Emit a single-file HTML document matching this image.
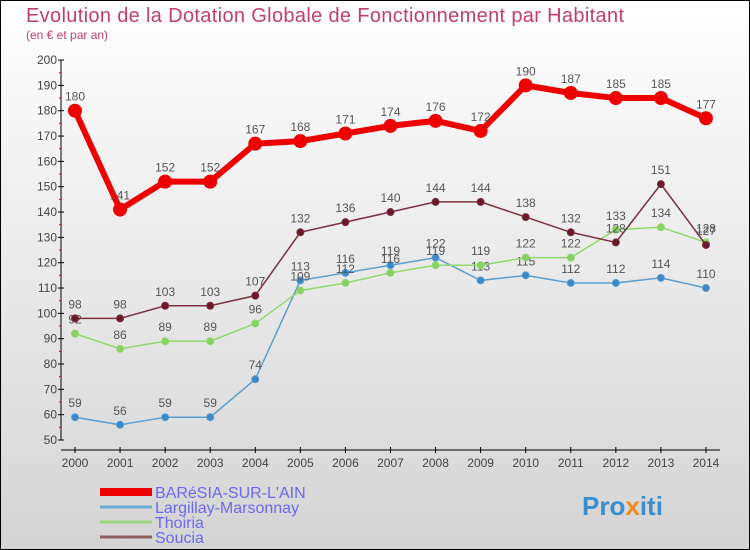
<!DOCTYPE html>
<html><head><meta charset="utf-8"><style>
body{margin:0}
svg{display:block;font-family:"Liberation Sans",sans-serif}
</style></head><body>
<svg width="750" height="550" xmlns="http://www.w3.org/2000/svg">
<defs><linearGradient id="bg" x1="0" y1="0" x2="0" y2="1"><stop offset="0" stop-color="#ffffff"/><stop offset="1" stop-color="#d4d4d4"/></linearGradient></defs>
<rect x="0.5" y="0.5" width="749" height="549" fill="url(#bg)" stroke="#000"/>
<text x="26" y="22" font-size="20" textLength="598" fill="#c0406a">Evolution de la Dotation Globale de Fonctionnement par Habitant</text>
<text x="26" y="39" font-size="12" fill="#c0406a">(en € et par an)</text>
<g id="axes"></g>
<g id="series"></g>
<g id="legend"></g>
<text x="582" y="515" font-size="26" font-weight="bold" fill="#3a8fd0">Pro<tspan fill="#f08a20">x</tspan>iti</text>
</svg>
<script>
const years=[2000,2001,2002,2003,2004,2005,2006,2007,2008,2009,2010,2011,2012,2013,2014];
const yTicks=[50,60,70,80,90,100,110,120,130,140,150,160,170,180,190,200];
const baresia=[180,141,152,152,167,168,171,174,176,172,190,187,185,185,177];
const largillay=[59,56,59,59,74,113,116,119,122,113,115,112,112,114,110];
const thoiria=[92,86,89,89,96,109,112,116,119,119,122,122,133,134,128];
const soucia=[98,98,103,103,107,132,136,140,144,144,138,132,128,151,127];
const NS="http://www.w3.org/2000/svg";
const X=i=>75+i*45.07;
const Y=v=>440-(v-50)*2.533;
function mk(t,a,p){const e=document.createElementNS(NS,t);for(const k in a)e.setAttribute(k,a[k]);p.appendChild(e);return e;}
const ax=document.getElementById('axes');
let yl=mk('line',{x1:61,y1:Y(200),x2:61,y2:Y(50),stroke:'#000'},ax);


yTicks.forEach(v=>{mk('line',{x1:58,y1:Y(v),x2:64,y2:Y(v),stroke:'#000'},ax);
 if(v<200)mk('line',{x1:59,y1:Y(v+5),x2:61,y2:Y(v+5),stroke:'#e00'},ax);
 const t=mk('text',{x:57,y:Y(v)+4,'font-size':12,'text-anchor':'end',fill:'#444'},ax);t.textContent=v;
 
 });
let xl=mk('line',{x1:61,y1:450,x2:720,y2:450,stroke:'#000'},ax);


years.forEach((y,i)=>{mk('line',{x1:X(i),y1:447,x2:X(i),y2:453,stroke:'#000'},ax);
 const t=mk('text',{x:X(i),y:467,'font-size':12,'text-anchor':'middle',fill:'#444'},ax);t.textContent=y;
 
 });
const sg=document.getElementById('series');
function draw(vals,color,w,r,name,fill){
 const g=mk('g',{},sg);
 
 
 mk('polyline',{points:vals.map((v,i)=>X(i)+','+Y(v)).join(' '),fill:'none',stroke:color,'stroke-width':w},g);
 vals.forEach((v,i)=>{const c=mk('circle',{cx:X(i),cy:Y(v),r:r,fill:fill,stroke:color},g);
  
  
  const t=mk('text',{x:X(i),y:Y(v)-10,'font-size':12,'text-anchor':'middle',fill:'#555'},g);t.textContent=v;
  
  });
}
draw(largillay,'#5a9fd0',1.5,3.5,'largillay','#3a88c8');
draw(thoiria,'#90d870',1.5,3.5,'thoiria','#88d060');
draw(soucia,'#7a3040',1.5,3.5,'soucia','#6a1828');
draw(baresia,'#ee0000',6,6.5,'baresia','#ee0000');
const lg=document.getElementById('legend');
[['BARéSIA-SUR-L\'AIN','#ee0000',8],['Largillay-Marsonnay','#6aa8d0',3],['Thoiria','#a0d880',3],['Soucia','#8a6060',3]].forEach((d,i)=>{
 const y=492+i*15;
 const l=mk('line',{x1:100,y1:y,x2:152,y2:y,stroke:d[1],'stroke-width':d[2]},lg);
 
 
 const t=mk('text',{x:155,y:y+6,'font-size':16,fill:'#6a6af0'},lg);t.textContent=d[0];
 
 
});
</script>
</body></html>
